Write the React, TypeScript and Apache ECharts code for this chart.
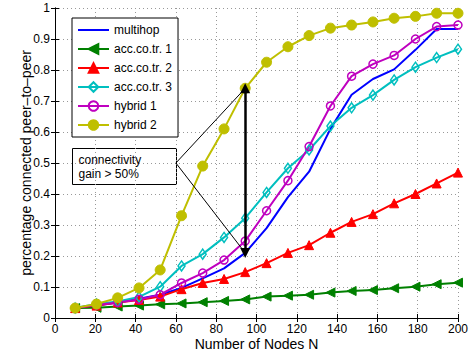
import React, { useEffect, useRef } from "react";
import * as echarts from "echarts";

const nodes = [10, 20.6, 31.1, 41.7, 52.2, 62.8, 73.3, 83.9, 94.4, 105, 115.6, 126.1, 136.7, 147.2, 157.8, 168.3, 178.9, 189.4, 200];
const multihop = [0.032, 0.04, 0.05, 0.062, 0.075, 0.097, 0.128, 0.16, 0.21, 0.29, 0.39, 0.472, 0.61, 0.72, 0.771, 0.802, 0.865, 0.932, 0.932];
const accCoTr1 = [0.032, 0.033, 0.037, 0.04, 0.044, 0.047, 0.051, 0.055, 0.06, 0.069, 0.072, 0.075, 0.082, 0.087, 0.09, 0.096, 0.101, 0.109, 0.114];
const accCoTr2 = [0.032, 0.04, 0.05, 0.058, 0.069, 0.093, 0.113, 0.126, 0.148, 0.177, 0.21, 0.235, 0.275, 0.31, 0.335, 0.37, 0.4, 0.434, 0.469];
const accCoTr3 = [0.032, 0.045, 0.053, 0.068, 0.101, 0.168, 0.206, 0.26, 0.322, 0.405, 0.483, 0.542, 0.619, 0.678, 0.719, 0.768, 0.809, 0.84, 0.867];
const hybrid1 = [0.032, 0.042, 0.05, 0.06, 0.075, 0.113, 0.145, 0.187, 0.248, 0.346, 0.443, 0.553, 0.684, 0.78, 0.819, 0.847, 0.9, 0.94, 0.945];
const hybrid2 = [0.032, 0.045, 0.065, 0.097, 0.155, 0.33, 0.49, 0.61, 0.741, 0.825, 0.875, 0.911, 0.935, 0.945, 0.955, 0.967, 0.973, 0.983, 0.983];

const seriesNames = ["multihop", "acc.co.tr. 1", "acc.co.tr. 2", "acc.co.tr. 3", "hybrid 1", "hybrid 2"];
const xTicks = { min: 0, max: 200, interval: 20 };
const yTicks = { min: 0, max: 1, interval: 0.1 };

// annotation (data coordinates)
const gainX = 94.4;
const gainTop = 0.741;
const gainBottom = 0.21;
const calloutAnchor = [60, 0.5];
const calloutText = "connectivity\ngain > 50%";

const FONT = "'Liberation Sans', Arial, Helvetica, sans-serif";

const pair = (ys: number[]) => nodes.map((x, i) => [x, ys[i]]);

export default function App() {
  const ref = useRef<HTMLDivElement>(null);
  useEffect(() => {
    if (!ref.current) return;
    const chart = echarts.init(ref.current, undefined, { renderer: "svg" });
    const grid = { left: 55, right: 12, top: 8, bottom: 38 };
    const mkSeries = (
      name: string,
      data: number[],
      color: string,
      symbol: string,
      size: number | number[],
      filled: boolean,
      extra: any = {}
    ) => ({
      type: "line",
      name,
      data: pair(data),
      symbol,
      symbolSize: size,
      showSymbol: symbol !== "none",
      lineStyle: { color, width: 2 },
      itemStyle: filled
        ? { color, borderColor: color, borderWidth: 1 }
        : { color: "rgba(255,255,255,0)", borderColor: color, borderWidth: 1.5 },
      emphasis: { disabled: true },
      z: 2,
      ...extra,
    });
    const option: any = {
      animation: false,
      textStyle: { fontFamily: FONT },
      grid,
      xAxis: [
        {
          type: "value",
          ...xTicks,
          name: "Number of Nodes N",
          nameLocation: "middle",
          nameGap: 19,
          nameMoveOverlap: false,
          nameTextStyle: { fontSize: 14, color: "#000", fontFamily: FONT, verticalAlign: "top" },
          axisLine: { show: true, lineStyle: { color: "#000", width: 1 } },
          axisTick: { show: true, inside: true, length: 4, lineStyle: { color: "#000" } },
          axisLabel: { color: "#000", fontSize: 12, margin: 5, fontFamily: FONT },
          splitLine: { show: true, lineStyle: { color: "#999", type: [1, 3], width: 1 } },
        },
        {
          type: "value",
          ...xTicks,
          position: "top",
          axisLine: { show: true, lineStyle: { color: "#000", width: 1 } },
          axisTick: { show: true, inside: true, length: 4, lineStyle: { color: "#000" } },
          axisLabel: { show: false },
          splitLine: { show: false },
        },
      ],
      yAxis: [
        {
          type: "value",
          ...yTicks,
          name: "percentage connected peer\u2013to\u2013peer",
          nameLocation: "middle",
          nameGap: 22,
          nameMoveOverlap: false,
          nameTextStyle: { fontSize: 14, color: "#000", fontFamily: FONT },
          axisLine: { show: true, lineStyle: { color: "#000", width: 1 } },
          axisTick: { show: true, inside: true, length: 4, lineStyle: { color: "#000" } },
          axisLabel: {
            color: "#000",
            fontSize: 12,
            margin: 5,
            fontFamily: FONT,
            formatter: (v: number) => String(Math.round(v * 10) / 10),
          },
          splitLine: { show: true, lineStyle: { color: "#999", type: [1, 3], width: 1 } },
        },
        {
          type: "value",
          ...yTicks,
          position: "right",
          axisLine: { show: true, lineStyle: { color: "#000", width: 1 } },
          axisTick: { show: true, inside: true, length: 4, lineStyle: { color: "#000" } },
          axisLabel: { show: false },
          splitLine: { show: false },
        },
      ],
      legend: {
        orient: "vertical",
        left: 72,
        top: 18,
        data: [
          { name: seriesNames[0], itemStyle: { color: "rgba(0,0,0,0)", borderColor: "rgba(0,0,0,0)" } },
          ...seriesNames.slice(1).map((n) => ({ name: n })),
        ],
        backgroundColor: "#fff",
        borderColor: "#000",
        borderWidth: 1,
        borderRadius: 0,
        padding: [5, 6, 5, 5],
        itemWidth: 31,
        itemHeight: 12,
        itemGap: 5,
        selectedMode: false,
        textStyle: { color: "#000", fontSize: 12, fontFamily: FONT, lineHeight: 14 },
      },
      series: [
        mkSeries(seriesNames[0], multihop, "#0000ff", "none", 0, true, {
          markLine: {
            silent: true,
            animation: false,
            label: { show: false },
            emphasis: { disabled: true },
            symbol: ["none", "none"],
            lineStyle: { color: "#000", width: 1, type: "solid" },
            data: [
              [
                { coord: calloutAnchor, symbol: "none" },
                { coord: [gainX, gainTop], symbol: "none" },
              ],
              [
                { coord: calloutAnchor, symbol: "none" },
                { coord: [gainX, gainBottom], symbol: "none" },
              ],
              [
                { coord: [gainX, gainTop], symbol: "triangle", symbolSize: [10, 10], lineStyle: { color: "#000", width: 2.5, type: "solid" } },
                { coord: [gainX, gainBottom], symbol: "triangle", symbolSize: [10, 10], lineStyle: { color: "#000", width: 2.5, type: "solid" } },
              ],
            ],
          },
        }),
        mkSeries(seriesNames[1], accCoTr1, "#008000", "triangle", 9, true, { symbolRotate: 90 }),
        mkSeries(seriesNames[2], accCoTr2, "#ff0000", "triangle", 9, true),
        mkSeries(seriesNames[3], accCoTr3, "#00bfbf", "diamond", [7, 10], false),
        mkSeries(seriesNames[4], hybrid1, "#bf00bf", "circle", 8, false),
        mkSeries(seriesNames[5], hybrid2, "#bfbf00", "circle", 10, true),
      ],
      graphic: [
        {
          type: "group",
          left: 72,
          top: 148,
          z: 100,
          children: [
            {
              type: "rect",
              shape: { x: 0, y: 0, width: 104, height: 36 },
              style: { fill: "#fff", stroke: "#000", lineWidth: 1 },
            },
            {
              type: "text",
              x: 6,
              y: 4,
              style: { text: calloutText, fill: "#000", fontSize: 12, fontFamily: FONT, lineHeight: 14 },
            },
          ],
        },
      ],
    };
    chart.setOption(option);
    return () => chart.dispose();
  }, []);
  return <div ref={ref} style={{ width: 471, height: 356, position: "absolute", left: 0, top: 0 }} />;
}
